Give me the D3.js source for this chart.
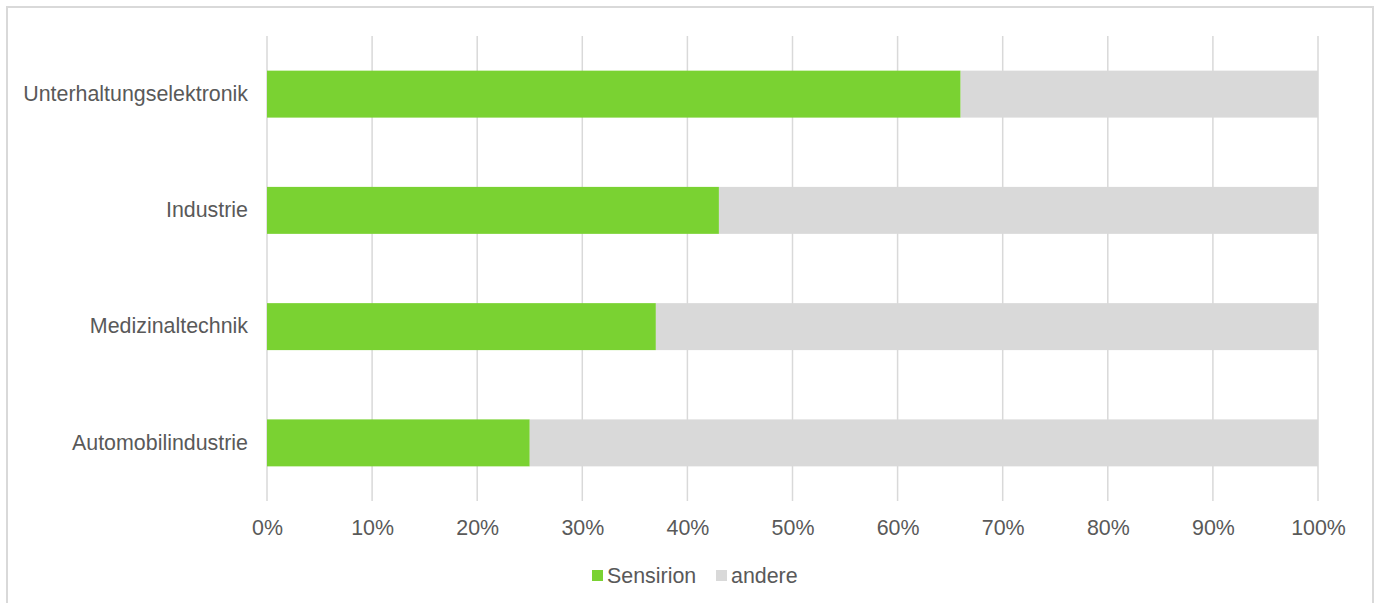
<!DOCTYPE html>
<html><head><meta charset="utf-8">
<script src="https://cdn.jsdelivr.net/npm/d3@7"></script>
<style>html,body{margin:0;padding:0;background:#fff;}svg{display:block;}</style>
</head><body>
<script>
const categories = ["Unterhaltungselektronik", "Industrie", "Medizinaltechnik", "Automobilindustrie"];
const sensirion = [66, 43, 37, 25];
const andere = [34, 57, 63, 75];
const seriesNames = ["Sensirion", "andere"];
const tickValues = [0,10,20,30,40,50,60,70,80,90,100];

const W = 1381, H = 603;
const svg = d3.select("body").append("svg").attr("width", W).attr("height", H);
const font = "'Liberation Sans', Arial, sans-serif";
const fs = 21.4;
const textColor = "#595959";
const green = "#7AD232", gray = "#D9D9D9";

// frame
svg.append("rect").attr("x", 7).attr("y", 7).attr("width", 1366).attr("height", 620)
  .attr("fill", "none").attr("stroke", "#D9D9D9").attr("stroke-width", 2);

const x = d3.scaleLinear().domain([0, 100]).range([267, 1318]);
const y = d3.scaleBand().domain(categories).range([36, 501]).paddingInner(0.596).paddingOuter(0.298);

// gridlines
svg.append("g").selectAll("line").data(tickValues).join("line")
  .attr("x1", d => x(d)).attr("x2", d => x(d)).attr("y1", 36).attr("y2", 501)
  .attr("stroke", "#D9D9D9").attr("stroke-width", 1.5);

const data = categories.map((c, i) => ({cat: c, Sensirion: sensirion[i], andere: andere[i]}));
const stack = d3.stack().keys(seriesNames)(data);
const colors = {Sensirion: green, andere: gray};

svg.append("g").selectAll("g").data(stack).join("g").attr("fill", s => colors[s.key])
  .selectAll("rect").data(s => s).join("rect")
  .attr("x", d => x(d[0])).attr("width", d => x(d[1]) - x(d[0]))
  .attr("y", d => y(d.data.cat)).attr("height", y.bandwidth());

// x axis labels
const xAxis = d3.axisBottom(x).tickValues(tickValues).tickFormat(d => d + "%").tickSize(0).tickPadding(0);
const gx = svg.append("g").attr("transform", "translate(0,520)").call(xAxis);
gx.select(".domain").remove();
gx.selectAll("text").attr("font-family", font).attr("font-size", fs).attr("fill", textColor).attr("dy", "0.71em");

// y axis labels
const yAxis = d3.axisLeft(y).tickSize(0).tickPadding(19);
const gy = svg.append("g").attr("transform", "translate(267,0)").call(yAxis);
gy.select(".domain").remove();
gy.selectAll("text").attr("font-family", font).attr("font-size", fs).attr("fill", textColor);

// legend
const legend = svg.append("g");
const legendItems = [{name: "Sensirion", x: 592}, {name: "andere", x: 716}];
legendItems.forEach(it => {
  legend.append("rect").attr("x", it.x).attr("y", 570).attr("width", 11).attr("height", 11).attr("fill", colors[it.name]);
  legend.append("text").attr("x", it.x + 15).attr("y", 583).text(it.name)
    .attr("font-family", font).attr("font-size", fs).attr("fill", textColor);
});
</script>
</body></html>
